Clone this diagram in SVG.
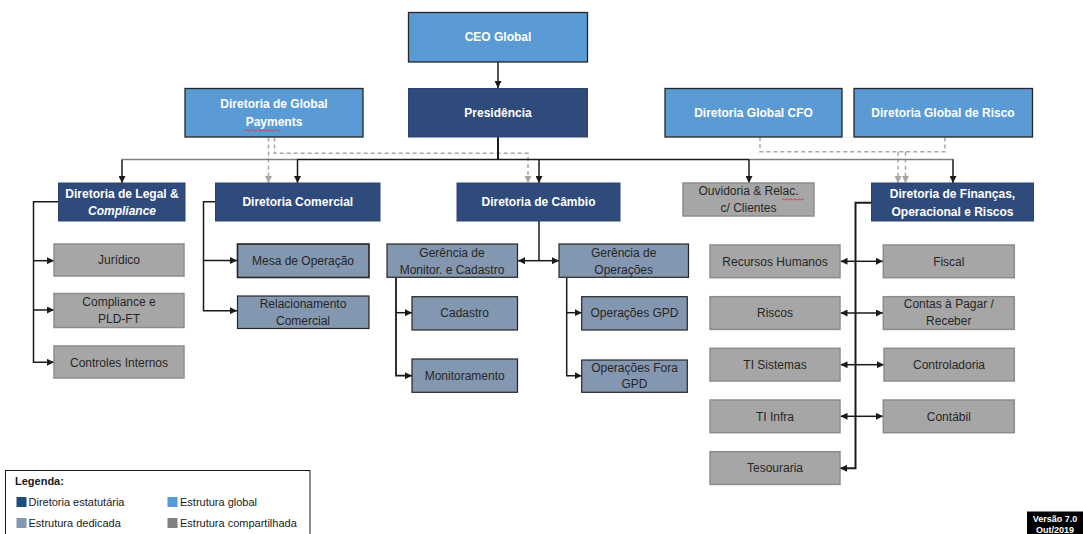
<svg xmlns="http://www.w3.org/2000/svg" width="1083" height="534" viewBox="0 0 1083 534">
<style>
  text { font-family: "Liberation Sans", Arial, sans-serif; font-size: 12px; text-anchor: middle; }
  .glob { fill: #5B9BD5; stroke: #262626; stroke-width: 1.3; }
  .stat { fill: #2F4B7C; stroke: #2A4470; stroke-width: 1; }
  .ded { fill: #8497B0; stroke: #262626; stroke-width: 1.2; }
  .shr { fill: #A6A6A6; stroke: #8C8C8C; stroke-width: 1.5; }
  .wt { fill: #FFFFFF; font-weight: bold; }
  .dk { fill: #262626; }
  .ln { fill: none; stroke: #1A1A1A; stroke-width: 1.5; }
  .lg { fill: none; stroke: #7F7F7F; stroke-width: 1.5; }
  .ds { fill: none; stroke: #A6A6A6; stroke-width: 1.5; stroke-dasharray: 4 3; }
  .leg { font-size: 11px; text-anchor: start; fill: #1A1A1A; }
</style>
<defs>
  <marker id="ab" viewBox="0 0 8 8" refX="8" refY="4" markerWidth="7" markerHeight="7" markerUnits="userSpaceOnUse" orient="auto">
    <path d="M0,0 L8,4 L0,8 z" fill="#1A1A1A"/>
  </marker>
  <marker id="ag" viewBox="0 0 8 8" refX="8" refY="4" markerWidth="7" markerHeight="7" markerUnits="userSpaceOnUse" orient="auto">
    <path d="M0,0 L8,4 L0,8 z" fill="#A6A6A6"/>
  </marker>
</defs>

<g id="connectors">
  <line class="ln" x1="498" y1="62" x2="498" y2="88" marker-end="url(#ab)"/>
  <path class="ds" d="M268.5,137.5 V183" marker-end="url(#ag)"/>
  <path class="ds" d="M274.5,137.5 V153.3 H528 V183" marker-end="url(#ag)"/>
  <path class="ds" d="M760,137 V151.7 H945 V137"/>
  <path class="ds" d="M898,151.7 V183" marker-end="url(#ag)"/>
  <path class="ds" d="M905.5,151.7 V183" marker-end="url(#ag)"/>
  <line class="ln" x1="498" y1="137" x2="498" y2="159.5" style="stroke-width:2"/>
  <line class="lg" x1="122" y1="159.5" x2="298" y2="159.5"/>
  <line class="ln" x1="297.5" y1="159.5" x2="749" y2="159.5"/>
  <line class="lg" x1="749" y1="159.5" x2="953.5" y2="159.5"/>
  <path class="ln" d="M122,159.5 V183" marker-end="url(#ab)"/>
  <path class="ln" d="M297.5,159.5 V183" marker-end="url(#ab)"/>
  <path class="ln" d="M539,159.5 V183" marker-end="url(#ab)"/>
  <path class="ln" d="M749,159.5 V183" marker-end="url(#ab)"/>
  <path class="ln" d="M953,159.5 V183" marker-end="url(#ab)"/>
  <path class="ln" d="M58.5,201.7 H33.5 V362.3 H54" marker-end="url(#ab)"/>
  <path class="ln" d="M33.5,260.7 H54" marker-end="url(#ab)"/>
  <path class="ln" d="M33.5,310 H54" marker-end="url(#ab)"/>
  <path class="ln" d="M215.5,201.7 H203.5 V310.7 H237" marker-end="url(#ab)"/>
  <path class="ln" d="M203.5,260.5 H237" marker-end="url(#ab)"/>
  <path class="ln" d="M539,221 V260.7"/>
  <path class="ln" d="M539,260.7 H518" marker-end="url(#ab)"/>
  <path class="ln" d="M539,260.7 H559" marker-end="url(#ab)"/>
  <path class="ln" d="M396,277.3 V375.7 H412" marker-end="url(#ab)" style="stroke-width:1.8"/>
  <path class="ln" d="M396,312.7 H412" marker-end="url(#ab)"/>
  <path class="ln" d="M566.7,277.3 V375.7 H581.7" marker-end="url(#ab)"/>
  <path class="ln" d="M566.7,312.7 H581.7" marker-end="url(#ab)"/>
  <path class="ln" d="M871.5,202.7 H855.5 V468.3 H840" marker-end="url(#ab)" style="stroke-width:2"/>
  <path class="ln" d="M855.5,261.3 H840.5" marker-end="url(#ab)"/>
  <path class="ln" d="M855.5,261.3 H883" marker-end="url(#ab)"/>
  <path class="ln" d="M855.5,313 H840.5" marker-end="url(#ab)"/>
  <path class="ln" d="M855.5,313 H883" marker-end="url(#ab)"/>
  <path class="ln" d="M855.5,364.7 H840.5" marker-end="url(#ab)"/>
  <path class="ln" d="M855.5,364.7 H884" marker-end="url(#ab)"/>
  <path class="ln" d="M855.5,416.3 H840.5" marker-end="url(#ab)"/>
  <path class="ln" d="M855.5,416.3 H883" marker-end="url(#ab)"/>
</g>

<g id="ceo"><rect class="glob" x="408.5" y="12.5" width="179" height="49.5"/><text class="wt" x="498" y="41.3">CEO Global</text></g>
<g id="presidencia"><rect class="stat" x="408.5" y="88.5" width="179" height="48.5"/><text class="wt" x="498" y="116.8">Presidência</text></g>
<g id="global-payments"><rect class="glob" x="185" y="88.5" width="178" height="48.5"/>
  <text class="wt" x="274" y="107.5">Diretoria de Global</text><text class="wt" x="274" y="126.3">Payments</text>
  <path d="M244,130.5 q1.5,-1.5 3,0 t3,0 t3,0 t3,0 t3,0 t3,0 t3,0 t3,0 t3,0 t3,0 t3,0 t3,0" fill="none" stroke="#E03030" stroke-width="0.8"/></g>
<g id="global-cfo"><rect class="glob" x="665" y="88.5" width="177" height="48.5"/><text class="wt" x="753.5" y="116.8">Diretoria Global CFO</text></g>
<g id="global-risco"><rect class="glob" x="854" y="88.5" width="178.5" height="48.5"/><text class="wt" x="943" y="116.8">Diretoria Global de Risco</text></g>

<g id="legal"><rect class="stat" x="58.5" y="183" width="126.5" height="38"/>
  <text class="wt" x="122" y="197.5">Diretoria de Legal &amp;</text><text class="wt" x="122" y="215.3" font-style="italic">Compliance</text></g>
<g id="comercial"><rect class="stat" x="215.5" y="183" width="164.5" height="38"/><text class="wt" x="297.8" y="206.2">Diretoria Comercial</text></g>
<g id="cambio"><rect class="stat" x="457" y="183" width="163" height="38"/><text class="wt" x="538.5" y="206.2">Diretoria de Câmbio</text></g>
<g id="ouvidoria"><rect class="shr" x="683" y="183" width="131" height="33"/>
  <text class="dk" x="748.5" y="195">Ouvidoria &amp; Relac.</text><text class="dk" x="748.5" y="211.5">c/ Clientes</text>
  <path d="M782,199.5 q1,-1.2 2,0 t2,0 t2,0 t2,0 t2,0 t2,0 t2,0 t2,0 t2,0 t2,0 t2,0" fill="none" stroke="#E03030" stroke-width="0.8"/></g>
<g id="financas"><rect class="stat" x="871.5" y="183" width="162" height="38"/>
  <text class="wt" x="952.5" y="197.5">Diretoria de Finanças,</text><text class="wt" x="952.5" y="215.5">Operacional e Riscos</text></g>

<g id="juridico"><rect class="shr" x="54" y="244" width="130" height="32"/><text class="dk" x="119" y="264.2">Jurídico</text></g>
<g id="compliance"><rect class="shr" x="54" y="293.5" width="130" height="34"/><text class="dk" x="119" y="305.9">Compliance e</text><text class="dk" x="119" y="322.9">PLD-FT</text></g>
<g id="controles"><rect class="shr" x="54" y="346" width="130" height="32"/><text class="dk" x="119" y="366.5">Controles Internos</text></g>

<g id="mesa"><rect class="ded" x="237.5" y="244" width="131.5" height="33.5" style="stroke-width:1.6"/><text class="dk" x="303" y="265">Mesa de Operação</text></g>
<g id="relacionamento"><rect class="ded" x="237.5" y="296" width="131.5" height="32.5"/><text class="dk" x="303" y="307.5">Relacionamento</text><text class="dk" x="303" y="324.9">Comercial</text></g>

<g id="ger-monitor"><rect class="ded" x="387" y="244" width="130.5" height="33.3"/><text class="dk" x="452" y="256.9">Gerência de</text><text class="dk" x="452" y="273.5">Monitor. e Cadastro</text></g>
<g id="ger-operacoes"><rect class="ded" x="559" y="244" width="129.5" height="33.3"/><text class="dk" x="623.7" y="256.9">Gerência de</text><text class="dk" x="623.7" y="273.5">Operações</text></g>
<g id="cadastro"><rect class="ded" x="412" y="296.7" width="105.5" height="33.3"/><text class="dk" x="464.7" y="317.2">Cadastro</text></g>
<g id="monitoramento"><rect class="ded" x="412" y="359" width="105.5" height="33.3"/><text class="dk" x="464.7" y="379.8">Monitoramento</text></g>
<g id="op-gpd"><rect class="ded" x="581.7" y="296.7" width="105.6" height="33.3"/><text class="dk" x="634.5" y="317.2">Operações GPD</text></g>
<g id="op-fora"><rect class="ded" x="581.7" y="360" width="105.6" height="32.3"/><text class="dk" x="634.5" y="371.5">Operações Fora</text><text class="dk" x="634.5" y="388.2">GPD</text></g>

<g id="rh"><rect class="shr" x="710" y="245" width="130" height="32.7"/><text class="dk" x="775" y="265.5">Recursos Humanos</text></g>
<g id="riscos"><rect class="shr" x="710" y="296.7" width="130" height="32.7"/><text class="dk" x="775" y="317.2">Riscos</text></g>
<g id="ti-sistemas"><rect class="shr" x="710" y="348.3" width="130" height="32.7"/><text class="dk" x="775" y="368.9">TI Sistemas</text></g>
<g id="ti-infra"><rect class="shr" x="710" y="400" width="130" height="32.7"/><text class="dk" x="775" y="420.5">TI Infra</text></g>
<g id="tesouraria"><rect class="shr" x="710" y="451.7" width="130" height="32.7"/><text class="dk" x="775" y="472.2">Tesouraria</text></g>
<g id="fiscal"><rect class="shr" x="883.3" y="245" width="131" height="32.7"/><text class="dk" x="948.8" y="265.5">Fiscal</text></g>
<g id="contas"><rect class="shr" x="883.3" y="296.7" width="131" height="32.7"/><text class="dk" x="948.8" y="308.2">Contas à Pagar /</text><text class="dk" x="948.8" y="324.9">Receber</text></g>
<g id="controladoria"><rect class="shr" x="884" y="348.3" width="130.3" height="32.7"/><text class="dk" x="949" y="368.9">Controladoria</text></g>
<g id="contabil"><rect class="shr" x="883.3" y="400" width="131" height="32.7"/><text class="dk" x="948.8" y="420.5">Contábil</text></g>

<g id="legenda">
  <rect x="5.5" y="470.5" width="304.5" height="70" fill="#FFFFFF" stroke="#1A1A1A" stroke-width="1"/>
  <text class="leg" x="15" y="485" font-weight="bold">Legenda:</text>
  <rect x="16.5" y="497" width="10" height="10" fill="#1F4E79"/>
  <text class="leg" x="28.5" y="506">Diretoria estatutária</text>
  <rect x="167.5" y="497" width="10" height="10" fill="#5B9BD5"/>
  <text class="leg" x="180" y="506">Estrutura global</text>
  <rect x="16.5" y="518" width="10" height="10" fill="#8497B0"/>
  <text class="leg" x="28.5" y="527">Estrutura dedicada</text>
  <rect x="167.5" y="518" width="10" height="10" fill="#808080"/>
  <text class="leg" x="180" y="527">Estrutura compartilhada</text>
</g>

<g id="versao">
  <rect x="1027" y="511.5" width="56" height="23" fill="#000000"/>
  <text x="1055" y="522" style="font-size:9px;font-weight:bold;fill:#FFFFFF">Versão 7.0</text>
  <text x="1055" y="533" style="font-size:9px;font-weight:bold;fill:#FFFFFF">Out/2019</text>
</g>
</svg>
